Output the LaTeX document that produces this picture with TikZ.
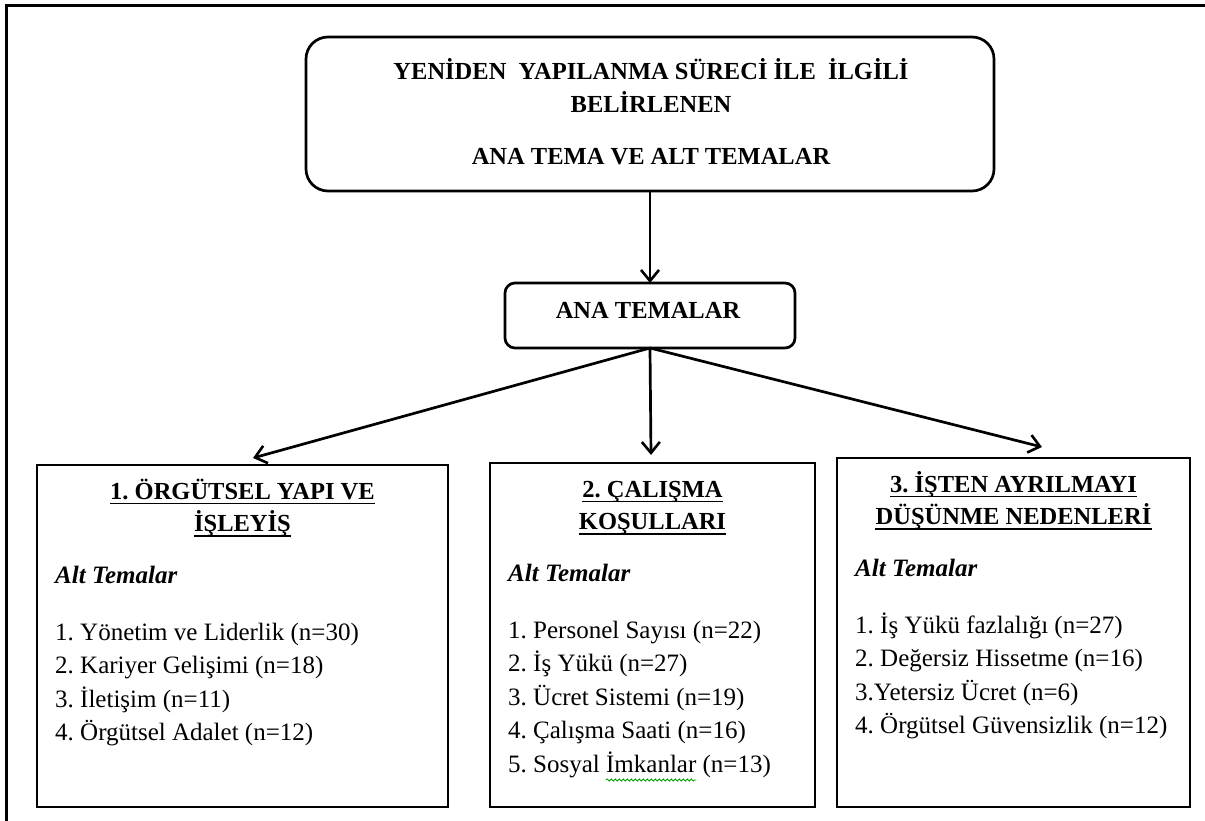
\documentclass[tikz,border=0pt]{standalone}
\usepackage{fontspec}
\setmainfont{Liberation Serif}
\usetikzlibrary{arrows.meta,positioning,decorations.pathmorphing}
\frenchspacing

\tikzset{
    kutu/.style={draw, line width=2.7pt, inner sep=0pt, outer sep=0pt},
    ok/.style={-{Straight Barb[length=11pt,width=18pt,line width=2.6pt]}, line width=2.7pt},
    baslik/.style={font=\fontsize{24.5}{30}\selectfont\bfseries, anchor=base, inner sep=0pt},
    madde/.style={font=\fontsize{25}{30}\selectfont, anchor=base west, inner sep=0pt},
    cizgi/.style={line width=1.7pt},
    dalga/.style={draw=green!65!black, line width=0.9pt, decorate, decoration={snake, amplitude=1.1pt, segment length=4pt}}
}

\begin{document}
\begin{tikzpicture}[x=1pt,y=-1pt]
    \useasboundingbox (0,0) rectangle (1205,821);
    % cerceve
    \draw[line width=2.8pt] (6.5,821) -- (6.5,5.5) -- (1205,5.5);

    % ust kutu
    \node[kutu, rounded corners=22pt, minimum width=688, minimum height=154] (ust) at (650,114) {};
    \node[baslik] (u1) at (651,80) {YENİDEN\ \ YAPILANMA SÜRECİ İLE\ \ İLGİLİ};
    \node[baslik] (u2) at (651,113) {BELİRLENEN};
    \node[baslik] (u3) at (651,165) {ANA TEMA VE ALT TEMALAR};

    \node[kutu, rounded corners=10pt, minimum width=290, minimum height=65] (ana) at (650,315.5) {};
    \node[baslik] (anat) at (648,318) {ANA TEMALAR};
    \draw[ok] (ust.south) -- (ana.north);

    % alt kutular
    \foreach \i/\sol/\tepe/\sag/\bir/\iki/\liste in {
        1/37/465/448/{1. ÖRGÜTSEL YAPI VE}/{İŞLEYİŞ}/{1. Yönetim ve Liderlik (n=30),2. Kariyer Gelişimi (n=18),3. İletişim (n=11),4. Örgütsel Adalet (n=12)},
        2/490/463/815/{2. ÇALIŞMA}/{KOŞULLARI}/{1. Personel Sayısı (n=22),2. İş Yükü (n=27),3. Ücret Sistemi (n=19),4. Çalışma Saati (n=16),5. Sosyal İmkanlar (n=13)},
        3/837/458/1190/{3. İŞTEN AYRILMAYI}/{DÜŞÜNME NEDENLERİ}/{1. İş Yükü fazlalığı (n=27),2. Değersiz Hissetme (n=16),3.Yetersiz Ücret (n=6),4. Örgütsel Güvensizlik (n=12)}}
    {
        \node[kutu, minimum width=\sag-\sol, minimum height=807-\tepe] (k\i) at ({(\sol+\sag)/2},{(\tepe+807)/2}) {};
        \node[baslik] (t\i a) at ({(\sol+\sag)/2},\tepe+34) {\bir};
        \node[baslik] (t\i b) at ({(\sol+\sag)/2},\tepe+66) {\iki};
        \draw[cizgi] ([yshift=-4.5pt]t\i a.base west) -- ([yshift=-4.5pt]t\i a.base east);
        \draw[cizgi] ([yshift=-5pt]t\i b.base west) -- ([yshift=-5pt]t\i b.base east);
        \node[madde, font=\fontsize{25}{30}\selectfont\bfseries\itshape] (a\i) at (\sol+18,\tepe+118) {Alt Temalar};
        \foreach \m [count=\j] in \liste
            \node[madde] (m\i\j) at (\sol+18,\tepe+175+33.5*\j-33.5) {\m};
    }
    % yazim denetimi dalgasi
    \path[dalga] ([xshift=98pt,yshift=-8pt]m25.base west) -- ([xshift=188pt,yshift=-8pt]m25.base west);

    \draw[ok] (ana.south) -- ([xshift=10.5pt,yshift=7pt]k1.north);
    \draw[ok] (ana.south) -- ([xshift=-1.5pt,yshift=8pt]k2.north);
    \draw[ok] (ana.south) -- ([xshift=28.5pt,yshift=11pt]k3.north);
\end{tikzpicture}
\end{document}
